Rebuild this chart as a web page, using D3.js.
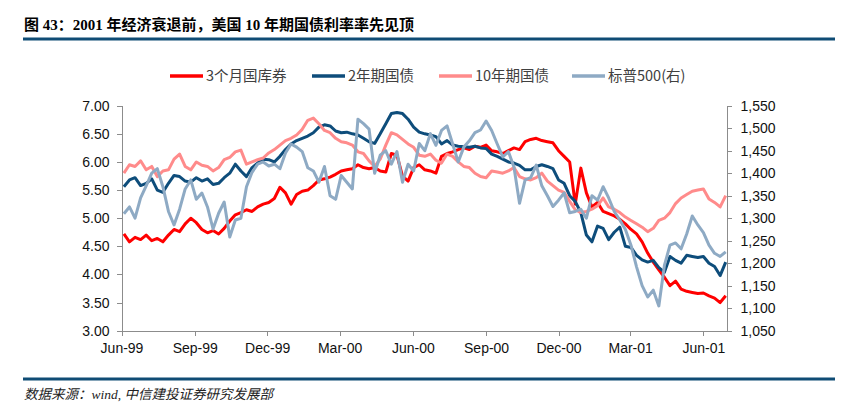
<!DOCTYPE html>
<html lang="zh-CN">
<head>
<meta charset="UTF-8">
<title>图 43：2001 年经济衰退前，美国 10 年期国债利率率先见顶</title>
<script src="https://cdn.jsdelivr.net/npm/d3@7"></script>
<style>
  body { margin: 0; background: #fff; }
  .axis text { font-family: "Liberation Sans", Arial, sans-serif; font-size: 14px; fill: #111; }
  .axis path, .axis line { stroke: #8c8c8c; shape-rendering: crispEdges; }
  .legend text { font-family: "Noto Sans CJK SC", "Liberation Sans", sans-serif; font-size: 14.5px; fill: #404040; }
</style>
</head>
<body>
<svg id="chart" width="847" height="407"></svg>
<script>
// weekly observations, first Friday of June 1999 onwards
var startDate = "1999-06-04";
var seriesNames = ["3个月国库券", "2年期国债", "10年期国债", "标普500(右)"];
var seriesColors = ["#ff0000", "#0e4d7b", "#ff8b8b", "#8eaac4"];

var bill3m = [
  4.72, 4.58, 4.66, 4.62, 4.70, 4.60, 4.64, 4.58, 4.70, 4.80,
  4.76, 4.90, 5.00, 4.92, 4.80, 4.74, 4.78, 4.72, 4.82, 4.95,
  5.06, 5.10, 5.15, 5.12, 5.20, 5.25, 5.28, 5.35, 5.55, 5.45,
  5.25, 5.42, 5.48, 5.50, 5.58, 5.68, 5.70, 5.73, 5.78, 5.84,
  5.86, 5.88, 5.95, 5.90, 5.88, 5.90, 5.84, 5.82, 6.15, 6.12,
  5.75, 5.66, 5.90, 5.95, 5.86, 5.84, 5.80, 6.10, 6.15, 6.18,
  6.22, 6.25, 6.22, 6.28, 6.26, 6.30, 6.20, 6.18, 6.15, 6.20,
  6.25, 6.22, 6.36, 6.40, 6.42, 6.38, 6.36, 6.34, 6.20, 6.10,
  6.00, 5.25, 5.89, 5.45, 5.20, 5.28, 5.12, 5.08, 5.04, 4.98,
  4.90, 4.80, 4.72, 4.58, 4.38, 4.22, 4.08, 3.95, 3.80, 3.88,
  3.74, 3.70, 3.68, 3.66, 3.67, 3.62, 3.58, 3.50, 3.62
];

var note2y = [
  5.56, 5.68, 5.72, 5.58, 5.62, 5.70, 5.50, 5.46, 5.62, 5.76,
  5.74, 5.66, 5.64, 5.72, 5.66, 5.70, 5.60, 5.62, 5.72, 5.80,
  5.96, 5.84, 5.74, 5.90, 5.98, 6.05, 6.04, 6.00, 6.10, 6.22,
  6.32, 6.38, 6.42, 6.46, 6.52, 6.62, 6.66, 6.64, 6.55, 6.52,
  6.53, 6.50, 6.48, 6.42, 6.36, 6.33, 6.50, 6.68, 6.86, 6.88,
  6.86, 6.76, 6.62, 6.53, 6.50, 6.48, 6.45, 6.32, 6.38, 6.30,
  6.28, 6.27, 6.26, 6.28, 6.25, 6.24, 6.14, 6.10, 6.05, 6.00,
  5.98, 5.94, 5.86, 5.86, 5.92, 5.95, 5.92, 5.88, 5.68, 5.62,
  5.40, 5.30, 5.10, 4.70, 4.58, 4.86, 4.82, 4.62, 4.75, 4.84,
  4.50, 4.48, 4.34, 4.26, 4.22, 4.25, 4.12, 4.04, 4.32, 4.25,
  4.20, 4.34, 4.32, 4.30, 4.32, 4.20, 4.14, 3.98, 4.22
];

var bond10y = [
  5.80, 5.95, 5.92, 6.02, 5.86, 5.92, 5.74, 5.84, 5.86, 6.05,
  6.14, 5.92, 5.86, 6.00, 5.94, 5.92, 5.84, 5.90, 6.04, 6.08,
  6.18, 6.21, 5.96, 6.00, 6.04, 6.07, 6.16, 6.22, 6.30, 6.38,
  6.42, 6.48, 6.58, 6.74, 6.78, 6.68, 6.56, 6.52, 6.42, 6.36,
  6.34, 6.30, 6.18, 6.15, 6.02, 5.92, 6.05, 6.30, 6.52, 6.48,
  6.40, 6.32, 6.26, 6.12, 6.10, 6.14, 6.03, 5.98, 6.14, 6.10,
  6.00, 5.92, 5.90, 5.80, 5.74, 5.72, 5.84, 5.82, 5.80, 5.84,
  5.90, 5.74, 5.70, 5.68, 5.72, 5.80, 5.66, 5.58, 5.50, 5.46,
  5.30, 5.15, 5.10, 5.12, 5.16, 5.22, 5.36, 5.20, 5.16, 5.10,
  5.02, 4.96, 4.90, 4.84, 4.76, 4.82, 4.96, 5.00, 5.10, 5.26,
  5.36, 5.42, 5.48, 5.50, 5.52, 5.34, 5.28, 5.20, 5.40
];

var sp500 = [
  1310, 1325, 1300, 1345, 1372, 1400, 1410, 1370, 1315, 1285,
  1320, 1365, 1385, 1342, 1356, 1325, 1276, 1311, 1336, 1258,
  1296, 1300, 1370, 1402, 1420, 1425, 1416, 1420, 1410, 1445,
  1465, 1458, 1448, 1412, 1405, 1380, 1415, 1350, 1342, 1395,
  1380, 1365, 1520, 1510, 1498, 1400, 1440, 1450, 1420, 1448,
  1380, 1420, 1405, 1466, 1450, 1488, 1462, 1495, 1505, 1465,
  1425, 1458, 1472, 1490, 1496, 1516, 1495, 1465, 1436, 1448,
  1414, 1333, 1385, 1390, 1418, 1372, 1350, 1326, 1340, 1356,
  1312, 1315, 1320, 1300, 1350, 1340, 1370, 1345, 1315, 1296,
  1275, 1240, 1192, 1150, 1125, 1140, 1105, 1195, 1240, 1245,
  1232, 1265, 1305, 1285, 1268, 1240, 1222, 1215, 1225
];

var xTicks = ["1999-06-01", "1999-09-01", "1999-12-01", "2000-03-01", "2000-06-01",
              "2000-09-01", "2000-12-01", "2001-03-01", "2001-06-01"];
var xDomain = ["1999-06-01", "2001-06-30"];
var leftTicks = [3.0, 3.5, 4.0, 4.5, 5.0, 5.5, 6.0, 6.5, 7.0];
var rightTicks = [1050, 1100, 1150, 1200, 1250, 1300, 1350, 1400, 1450, 1500, 1550];

var svg = d3.select("#chart");
var parse = d3.timeParse("%Y-%m-%d");
var start = parse(startDate);
var dates = bill3m.map(function(d, i){ return d3.timeDay.offset(start, 7 * i) });

var plotL = 121.5, plotR = 726.5, plotT = 105.7, plotB = 330.7;

var x = d3.scaleTime()
  .domain(xDomain.map(parse))
  .range([plotL, plotR]);
var yL = d3.scaleLinear()
  .domain([leftTicks[0], leftTicks[leftTicks.length - 1]])
  .range([plotB, plotT]);
var yR = d3.scaleLinear()
  .domain([rightTicks[0], rightTicks[rightTicks.length - 1]])
  .range([plotB, plotT]);

// title + rules
svg.append("text")
  .attr("x", 24).attr("y", 30)
  .style("font-family", "'Liberation Serif', 'Noto Sans CJK SC', serif")
  .style("font-weight", "bold")
  .style("font-size", "15px")
  .text("图 43：2001 年经济衰退前，美国 10 年期国债利率率先见顶");

svg.append("rect").attr("x", 23).attr("y", 37.5).attr("width", 812).attr("height", 3).attr("fill", "#0f4c75");
svg.append("rect").attr("x", 23).attr("y", 377.5).attr("width", 812).attr("height", 3).attr("fill", "#0f4c75");

svg.append("text")
  .attr("x", 24).attr("y", 399)
  .style("font-family", "'Liberation Serif', 'Noto Sans CJK SC', serif")
  .style("font-style", "italic")
  .style("font-size", "13.5px")
  .style("fill", "#222")
  .text("数据来源：wind, 中信建投证券研究发展部");

// axes
svg.append("g")
  .attr("class", "axis")
  .attr("transform", "translate(0," + plotB + ")")
  .call(d3.axisBottom(x).tickValues(xTicks.map(parse)).tickFormat(d3.timeFormat("%b-%y"))
    .tickSizeInner(5).tickSizeOuter(0).tickPadding(7));

svg.append("g")
  .attr("class", "axis")
  .attr("transform", "translate(" + plotL + ",0)")
  .call(d3.axisLeft(yL).tickValues(leftTicks).tickFormat(d3.format(".2f"))
    .tickSizeInner(5).tickSizeOuter(0).tickPadding(7));

svg.append("g")
  .attr("class", "axis")
  .attr("transform", "translate(" + plotR + ",0)")
  .call(d3.axisRight(yR).tickValues(rightTicks).tickFormat(d3.format(","))
    .tickSizeInner(5).tickSizeOuter(0).tickPadding(9));

// lines
var allSeries = [bill3m, note2y, bond10y, sp500];
allSeries.forEach(function(vals, s){
  var yScale = s === 3 ? yR : yL;
  var line = d3.line()
    .x(function(d, i){ return x(dates[i]) })
    .y(function(d){ return yScale(d) });
  svg.append("path")
    .datum(vals)
    .attr("fill", "none")
    .attr("stroke", seriesColors[s])
    .attr("stroke-width", 3)
    .attr("stroke-linejoin", "round")
    .attr("d", line);
});

// legend
var legendX = [170, 312, 439, 572];
var legend = svg.append("g").attr("class", "legend");
seriesNames.forEach(function(name, i){
  var g = legend.append("g").attr("transform", "translate(" + legendX[i] + ",76)");
  g.append("line").attr("x1", 0).attr("x2", 33).attr("y1", 0).attr("y2", 0)
    .attr("stroke", seriesColors[i]).attr("stroke-width", 3.5);
  g.append("text").attr("x", 36).attr("dy", "0.36em").text(name);
});
</script>
</body>
</html>
